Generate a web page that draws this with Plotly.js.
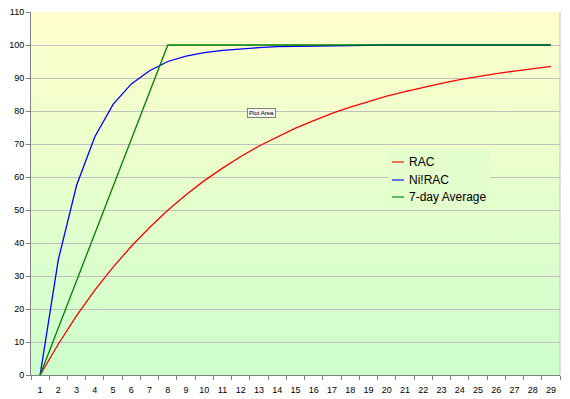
<!DOCTYPE html>
<html><head><meta charset="utf-8">
<script src="https://cdn.plot.ly/plotly-3.0.1.min.js"></script>
<style>html,body{margin:0;padding:0;background:#fff}#c{width:570px;height:399px}</style>
</head><body><div id="c"></div>
<script>
var days = [1,2,3,4,5,6,7,8,9,10,11,12,13,14,15,16,17,18,19,20,21,22,23,24,25,26,27,28,29];
var rac = [0,9.4,18.0,25.7,32.7,39.0,44.7,49.9,54.6,58.9,62.7,66.2,69.4,72.2,74.8,77.1,79.3,81.2,82.9,84.5,85.9,87.2,88.4,89.5,90.5,91.3,92.1,92.8,93.5];
var nirac = [0,35.0,57.5,72.2,82.0,88.2,92.2,95.0,96.6,97.7,98.4,98.9,99.2,99.5,99.6,99.8,99.9,99.9,100,100,100,100,100,100,100,100,100,100,100];
var avg7 = [0,14.3,28.6,42.9,57.1,71.4,85.7,100,100,100,100,100,100,100,100,100,100,100,100,100,100,100,100,100,100,100,100,100,100];
var names = ['RAC','Ni!RAC','7-day Average'];
var colors = ['#ff0000','#0000ff','#008000'];
var yTicks = [0,10,20,30,40,50,60,70,80,90,100,110];

var series = [rac, nirac, avg7];
var traces = series.map(function(s,i){
  return {x: days, y: s, type:'scatter', mode:'lines', name: names[i],
    line:{color: colors[i], width:1.3}, hoverinfo:'skip'};
});

var svg = '<svg xmlns="http://www.w3.org/2000/svg" width="100" height="100" preserveAspectRatio="none"><defs><linearGradient id="g" x1="0" y1="0" x2="0" y2="1"><stop offset="0" stop-color="#ffffcc"/><stop offset="1" stop-color="#ccffcc"/></linearGradient></defs><rect width="100" height="100" fill="url(#g)"/></svg>';
var img = 'data:image/svg+xml;base64,' + btoa(svg);

// custom legend (paper coordinates of the plot area)
var legX0 = 0.6824, legX1 = 0.7051, legTextX = 0.7108;
var legY = [0.5868, 0.5372, 0.4904];
var shapes = [
  {type:'line', xref:'paper', yref:'paper', x0:1, x1:1, y0:0, y1:1, line:{color:'#c0c0c0', width:1}},
  {type:'rect', xref:'paper', yref:'paper', x0:0.675, x1:0.868, y0:0.4656, y1:0.6198, line:{width:0}, fillcolor:'#e4fdcc', layer:'above'}
];
var annotations = [{xref:'paper', yref:'paper', x:0.435, y:0.723, xanchor:'center', yanchor:'middle',
    text:'Plot Area', showarrow:false, font:{size:6, color:'#000'}, bgcolor:'#f4f4f0',
    bordercolor:'#808080', borderwidth:1, borderpad:1}];
names.forEach(function(n,i){
  shapes.push({type:'line', xref:'paper', yref:'paper', x0:legX0, x1:legX1, y0:legY[i], y1:legY[i],
    line:{color:colors[i], width:2}, opacity:0.55, layer:'above'});
  annotations.push({xref:'paper', yref:'paper', x:legTextX, y:legY[i], xanchor:'left', yanchor:'middle',
    text:n, showarrow:false, font:{size:12, color:'#000'}});
});

var layout = {
  width:570, height:399,
  margin:{l:31, r:10, t:12, b:24},
  paper_bgcolor:'#ffffff', plot_bgcolor:'rgba(0,0,0,0)',
  font:{family:'Liberation Sans, Arial, sans-serif', size:9, color:'#000'},
  images:[{source: img, xref:'paper', yref:'paper', x:0, y:1, sizex:1, sizey:1, sizing:'stretch', layer:'below', xanchor:'left', yanchor:'top'}],
  xaxis:{range:[0.5,29.5], tickvals: days, ticktext: days.map(String), ticks:'', showgrid:false,
    showline:true, linecolor:'#808080', linewidth:1, zeroline:false, fixedrange:true,
    tickfont:{size:9}, ticklabelstandoff:6,
    minor:{tick0:0.5, dtick:1, ticks:'outside', ticklen:4, tickcolor:'#808080', showgrid:false}},
  yaxis:{range:[0,110], tickvals: yTicks, ticks:'outside', ticklen:4, tickcolor:'#808080',
    showgrid:true, gridcolor:'#c0c0c0', gridwidth:1, showline:true, linecolor:'#808080', linewidth:1,
    zeroline:false, fixedrange:true, tickfont:{size:9}},
  shapes: shapes,
  showlegend:false,
  annotations: annotations
};
Plotly.newPlot('c', traces, layout, {staticPlot:true});
</script></body></html>
